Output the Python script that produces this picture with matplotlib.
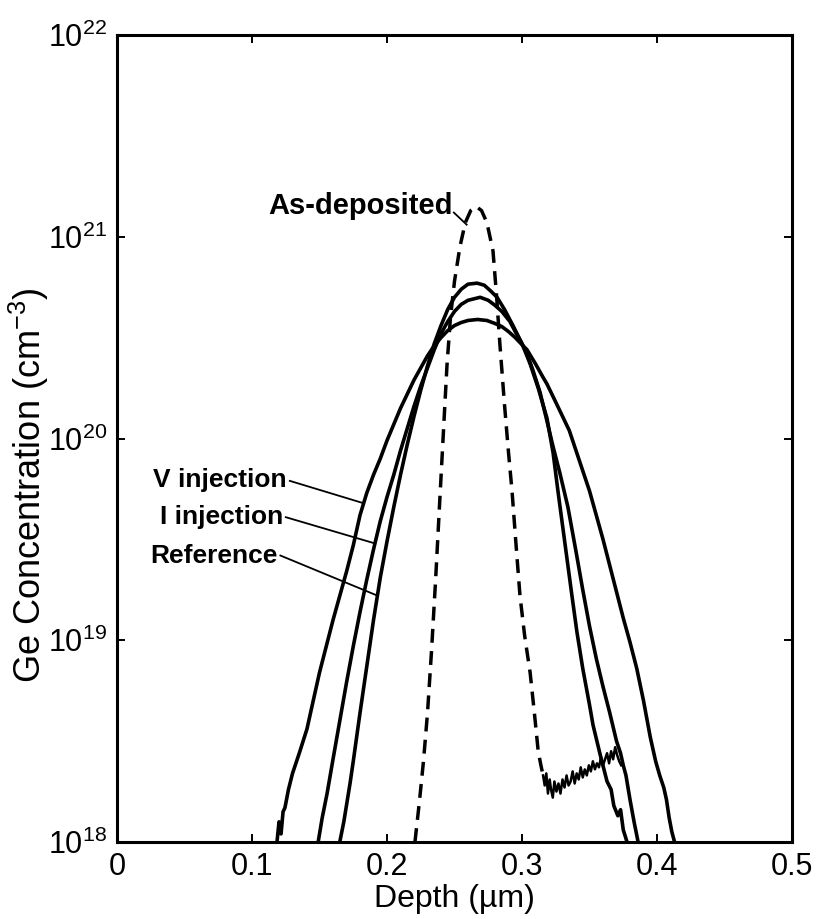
import numpy as np
import matplotlib
matplotlib.use("Agg")
import matplotlib.pyplot as plt

plt.rcParams['font.family'] = ['Liberation Sans', 'DejaVu Sans']
plt.rcParams['mathtext.fontset'] = 'custom'
plt.rcParams['mathtext.rm'] = 'Liberation Sans'
plt.rcParams['mathtext.it'] = 'Liberation Sans:italic'
plt.rcParams['mathtext.bf'] = 'Liberation Sans:bold'

# ---- data (depth in um, log10 of Ge concentration in cm^-3) ----
v_x = [0.1185, 0.1200, 0.1215, 0.1230, 0.1244, 0.1270, 0.1300, 0.1350, 0.1407, 0.1450,
       0.1500, 0.1550, 0.1600, 0.1650, 0.1700, 0.1750, 0.1800, 0.1850, 0.1900, 0.1950,
       0.2000, 0.2050, 0.2100, 0.2150, 0.2200, 0.2250, 0.2300, 0.2350, 0.2400, 0.2450,
       0.2500, 0.2550, 0.2600, 0.2670, 0.2740, 0.2800, 0.2850, 0.2900, 0.2950, 0.3000,
       0.3037, 0.3100, 0.3150, 0.3185, 0.3250, 0.3300, 0.3350, 0.3400, 0.3450, 0.3500,
       0.3550, 0.3600, 0.3650, 0.3700, 0.3750, 0.3800, 0.3850, 0.3900, 0.3950, 0.3990,
       0.4020, 0.4050, 0.4070, 0.4090, 0.4110, 0.4130]
v_y = [18.00, 18.10, 18.04, 18.15, 18.17, 18.26, 18.34, 18.44, 18.56, 18.69,
       18.84, 18.97, 19.10, 19.22, 19.34, 19.47, 19.62, 19.73, 19.82, 19.90,
       19.99, 20.07, 20.15, 20.22, 20.29, 20.35, 20.41, 20.46, 20.50, 20.535,
       20.56, 20.575, 20.585, 20.59, 20.585, 20.57, 20.555, 20.53, 20.50, 20.465,
       20.44, 20.37, 20.31, 20.27, 20.18, 20.11, 20.04, 19.94, 19.84, 19.74,
       19.62, 19.50, 19.37, 19.24, 19.11, 18.99, 18.86, 18.70, 18.52, 18.40,
       18.33, 18.27, 18.21, 18.12, 18.05, 18.00]

i_x = [0.1490, 0.1520, 0.1556, 0.1600, 0.1650, 0.1700, 0.1750, 0.1800, 0.1850, 0.1900,
       0.1950, 0.2000, 0.2050, 0.2100, 0.2150, 0.2200, 0.2250, 0.2300, 0.2350, 0.2400,
       0.2450, 0.2500, 0.2550, 0.2600, 0.2690, 0.2750, 0.2800, 0.2850, 0.2910, 0.2950,
       0.3000, 0.3037, 0.3080, 0.3133, 0.3180, 0.3230, 0.3280, 0.3340, 0.3400, 0.3450,
       0.3500, 0.3550, 0.3600, 0.3650, 0.3700, 0.3730, 0.3750, 0.3770, 0.3800, 0.3830,
       0.3860]
i_y = [18.00, 18.12, 18.24, 18.41, 18.60, 18.79, 18.97, 19.14, 19.30, 19.45,
       19.59, 19.71, 19.82, 19.94, 20.05, 20.16, 20.26, 20.35, 20.44, 20.52,
       20.58, 20.63, 20.665, 20.685, 20.70, 20.685, 20.66, 20.63, 20.58, 20.53,
       20.47, 20.42, 20.34, 20.23, 20.10, 19.96, 19.83, 19.66, 19.44, 19.25,
       19.07, 18.91, 18.77, 18.64, 18.50, 18.44, 18.38, 18.33, 18.21, 18.10,
       18.00]

r_x = [0.1650, 0.1680, 0.1726, 0.1750, 0.1800, 0.1850, 0.1900, 0.1950, 0.2000, 0.2050,
       0.2100, 0.2150, 0.2200, 0.2250, 0.2300, 0.2350, 0.2400, 0.2450, 0.2500, 0.2550,
       0.2600, 0.2667, 0.2720, 0.2770, 0.2815, 0.2870, 0.2933, 0.3000, 0.3060, 0.3120,
       0.3185, 0.3230, 0.3270, 0.3320, 0.3370, 0.3407, 0.3450, 0.3500, 0.3526, 0.3580,
       0.3630, 0.3660, 0.3680, 0.3710, 0.3730, 0.3750, 0.3778]
r_y = [18.00, 18.10, 18.29, 18.40, 18.64, 18.87, 19.10, 19.31, 19.49, 19.66,
       19.82, 19.97, 20.11, 20.24, 20.36, 20.47, 20.56, 20.64, 20.70, 20.74,
       20.765, 20.77, 20.76, 20.73, 20.70, 20.64, 20.56, 20.47, 20.37, 20.25,
       20.10, 19.93, 19.72, 19.47, 19.22, 19.04, 18.86, 18.68, 18.58, 18.43,
       18.30, 18.26, 18.18, 18.13, 18.16, 18.06, 18.00]

a_x = [0.2207, 0.2240, 0.2270, 0.2300, 0.2330, 0.2360, 0.2393, 0.2420, 0.2444, 0.2470,
       0.2500, 0.2540, 0.2580, 0.2620, 0.2660, 0.2700, 0.2740, 0.2785, 0.2810, 0.2837,
       0.2870, 0.2900, 0.2926, 0.2955, 0.2985, 0.3020, 0.3060, 0.3090, 0.3120, 0.3140,
       0.3156]
a_y = [18.00, 18.20, 18.40, 18.64, 18.95, 19.30, 19.72, 20.06, 20.36, 20.60,
       20.78, 20.95, 21.07, 21.13, 21.15, 21.13, 21.07, 20.93, 20.72, 20.46,
       20.17, 19.93, 19.74, 19.48, 19.22, 19.02, 18.84, 18.65, 18.45, 18.38,
       18.33]

p_x = [0.3156, 0.3168, 0.3180, 0.3192, 0.3205, 0.3215, 0.3228, 0.3240, 0.3255, 0.3270,
       0.3285, 0.3300, 0.3315, 0.3330, 0.3345, 0.3360, 0.3375, 0.3390, 0.3405, 0.3420,
       0.3435, 0.3450, 0.3465, 0.3480, 0.3495, 0.3510, 0.3525, 0.3540, 0.3555, 0.3570,
       0.3585, 0.3600, 0.3615, 0.3630, 0.3645, 0.3660, 0.3675, 0.3690, 0.3705, 0.3720,
       0.3735]
p_y = [18.33, 18.28, 18.34, 18.24, 18.31, 18.26, 18.22, 18.30, 18.25, 18.29,
       18.24, 18.31, 18.27, 18.33, 18.28, 18.30, 18.35, 18.29, 18.34, 18.31,
       18.37, 18.32, 18.36, 18.33, 18.38, 18.35, 18.40, 18.36, 18.39, 18.37,
       18.42, 18.38, 18.41, 18.44, 18.39, 18.45, 18.41, 18.47, 18.43, 18.40,
       18.38]

x_ticks = [0, 0.1, 0.2, 0.3, 0.4, 0.5]
x_ticklabels = ['0', '0.1', '0.2', '0.3', '0.4', '0.5']
y_ticks = [1e18, 1e19, 1e20, 1e21, 1e22]
y_ticklabels = [r'$\mathregular{10^{18}}$', r'$\mathregular{10^{19}}$', r'$\mathregular{10^{20}}$',
                r'$\mathregular{10^{21}}$', r'$\mathregular{10^{22}}$']

fig = plt.figure(figsize=(8.16, 9.19), dpi=100)
ax = fig.add_axes([0.1434, 0.0838, 0.8272, 0.8781])

lw = 2.6
ax.plot(v_x, 10 ** np.array(v_y), color='black', lw=lw)
ax.plot(i_x, 10 ** np.array(i_y), color='black', lw=lw)
ax.plot(r_x, 10 ** np.array(r_y), color='black', lw=lw)
ax.plot(a_x, 10 ** np.array(a_y), color='black', lw=2.5, ls=(0, (4.0, 2.4)))
ax.plot(p_x, 10 ** np.array(p_y), color='black', lw=1.8)

ax.set_yscale('log')
ax.set_xlim(0, 0.5)
ax.set_ylim(1e18, 1e22)
ax.set_xticks(x_ticks)
ax.set_xticklabels(x_ticklabels)
ax.set_yticks(y_ticks)
ax.set_yticklabels(y_ticklabels)
ax.minorticks_off()
ax.tick_params(direction='in', length=6, width=1.4, labelsize=22, top=True, right=True, pad=7)
for s in ax.spines.values():
    s.set_linewidth(2.2)

ax.set_xlabel('Depth (µm)', fontsize=23, labelpad=2)
ax.set_ylabel(r'Ge Concentration (cm$^{\mathregular{-3}}$)', fontsize=26)
ax.yaxis.set_label_coords(-0.098, 0.442)

# annotations
ax.text(0.2485, 10 ** 21.15, 'As-deposited', ha='right', va='center', fontsize=21, fontweight='bold')
ax.plot([0.2495, 0.2590], [10 ** 21.12, 10 ** 21.06], color='black', lw=1.3)

ax.text(0.126, 10 ** 19.794, 'V injection', ha='right', va='center', fontsize=19, fontweight='bold')
ax.plot([0.128, 0.1822], [10 ** 19.79, 10 ** 19.68], color='black', lw=1.3)
ax.text(0.123, 10 ** 19.61, 'I injection', ha='right', va='center', fontsize=19, fontweight='bold')
ax.plot([0.125, 0.191], [10 ** 19.61, 10 ** 19.48], color='black', lw=1.3)
ax.text(0.119, 10 ** 19.42, 'Reference', ha='right', va='center', fontsize=19, fontweight='bold')
ax.plot([0.121, 0.1933], [10 ** 19.42, 10 ** 19.22], color='black', lw=1.3)

fig.savefig('out.png', dpi=100)
